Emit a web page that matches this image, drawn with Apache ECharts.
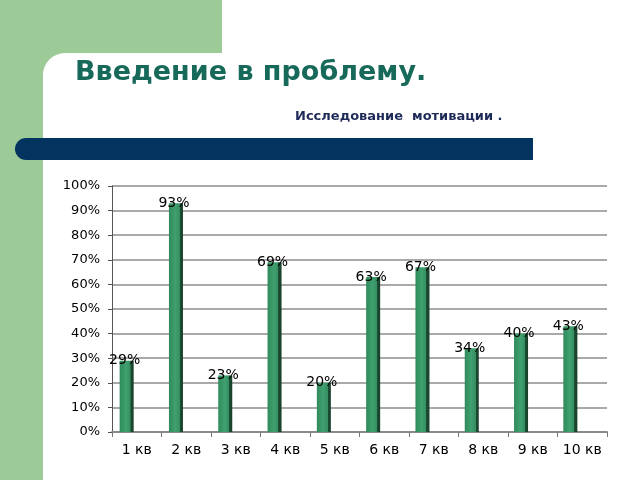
<!DOCTYPE html>
<html>
<head>
<meta charset="utf-8">
<script src="https://cdn.jsdelivr.net/npm/echarts@6/dist/echarts.min.js"></script>
<style>html,body{margin:0;padding:0;background:#fff}#c{width:640px;height:480px}</style>
</head>
<body>
<div id="c"></div>
<script>
var categories = ['1 кв','2 кв','3 кв','4 кв','5 кв','6 кв','7 кв','8 кв','9 кв','10 кв'];
var values = [29, 93, 23, 69, 20, 63, 67, 34, 40, 43];
var titleText = 'Введение в проблему.';
var subtitleText = 'Исследование  мотивации .';

var chart = echarts.init(document.getElementById('c'), null, {renderer:'canvas'});
var FONT = 'DejaVu Sans';
var barColor = {
  type:'linear', x:0, y:0, x2:1, y2:0,
  colorStops:[
    {offset:0, color:'#2f8a5a'},
    {offset:0.45, color:'#40a06f'},
    {offset:0.77, color:'#358f60'},
    {offset:0.78, color:'#1d4f34'},
    {offset:1, color:'#163d28'}
  ]
};
chart.setOption({
  animation:false,
  backgroundColor:'#ffffff',
  graphic:[
    {type:'rect', z:-10, silent:true, shape:{x:0,y:0,width:222,height:80}, style:{fill:'#9dcb98'}},
    {type:'rect', z:-10, silent:true, shape:{x:0,y:0,width:43,height:480}, style:{fill:'#9dcb98'}},
    {type:'rect', z:-9, silent:true, shape:{x:43,y:53,width:597,height:427,r:[22,0,0,0]}, style:{fill:'#ffffff'}},
    {type:'rect', z:-8, silent:true, shape:{x:15,y:138,width:518,height:22,r:[11,0,0,11]}, style:{fill:'#03335f'}}
  ],
  title:[
    {text:titleText, left:70, top:54, textStyle:{fontFamily:'DejaVu Sans', fontSize:27, fontWeight:'bold', color:'#17695a'}},
    {text:subtitleText, left:290, top:105, textStyle:{fontFamily:'DejaVu Sans', fontSize:13, fontWeight:'bold', color:'#1e2a58'}}
  ],
  grid:[
    {left:112, right:33, top:186, bottom:48, containLabel:false},
    {left:102, right:45, top:186, bottom:48, containLabel:false}
  ],
  xAxis:[
    {type:'category', gridIndex:0, data:categories, boundaryGap:true,
     axisLine:{show:true, lineStyle:{color:'#8a8a8a', width:2}},
     axisTick:{show:true, alignWithLabel:false, interval:0, length:5, lineStyle:{color:'#777', width:1}},
     axisLabel:{interval:0, fontFamily:FONT, fontSize:14, color:'#000', margin:11},
     splitLine:{show:false}},
    {type:'category', gridIndex:1, data:categories, show:false}
  ],
  yAxis:[
    {type:'value', gridIndex:0, min:0, max:100, interval:10,
     axisLine:{show:true, lineStyle:{color:'#555', width:1}},
     axisTick:{show:true, length:4, lineStyle:{color:'#555'}},
     axisLabel:{formatter:'{value}%', fontFamily:FONT, fontSize:13, color:'#000', margin:12, padding:[8,0,0,0]},
     splitLine:{show:true, lineStyle:{color:'#8c8c8c', width:1.5}}},
    {type:'value', gridIndex:1, min:0, max:100, interval:10, show:false, splitLine:{show:false}}
  ],
  series:[
    {type:'bar', xAxisIndex:1, yAxisIndex:1, data:values, barWidth:14,
     itemStyle:{color:barColor},
     label:{show:true, position:'top', distance:-7, offset:[-2,0], formatter:'{c}%', fontFamily:FONT, fontSize:14, color:'#000'}}
  ]
});
</script>
</body>
</html>
